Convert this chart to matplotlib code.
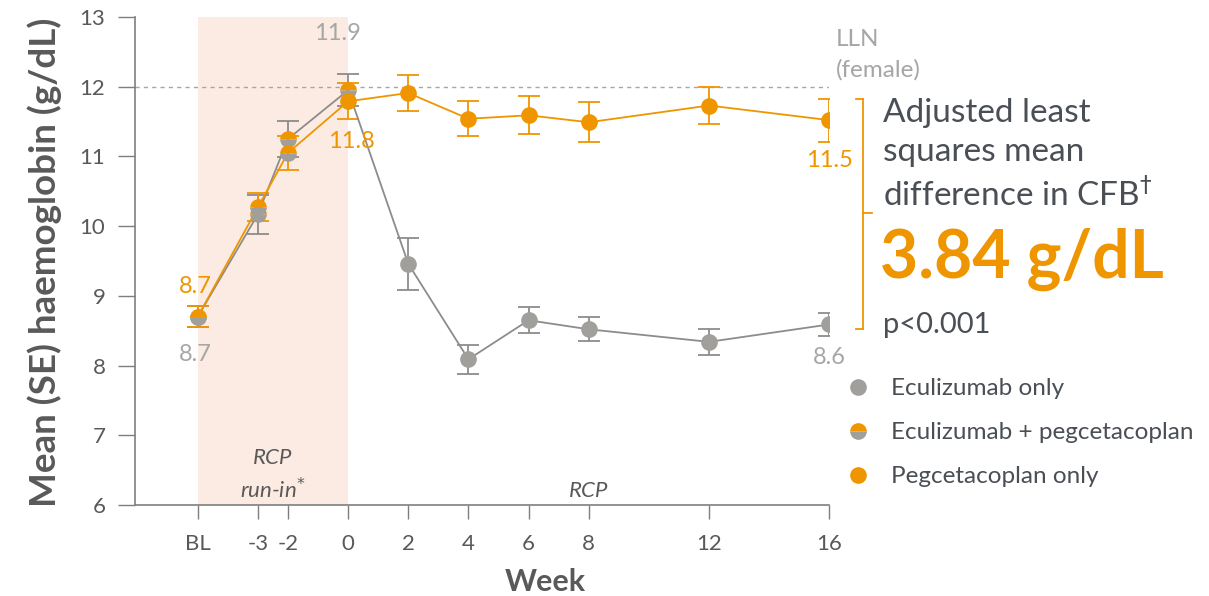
import matplotlib
matplotlib.use("Agg")
import matplotlib.pyplot as plt
from matplotlib.lines import Line2D
import numpy as np

# ---- data ----
week_labels = ['BL', '-3', '-2', '0', '2', '4', '6', '8', '12', '16']
weeks = [-5, -3, -2, 0, 2, 4, 6, 8, 12, 16]
ecu_mean = [8.70, 10.17, 11.25, 11.95, 9.46, 8.09, 8.65, 8.52, 8.34, 8.59]
ecu_se = [0.15, 0.28, 0.26, 0.23, 0.37, 0.21, 0.19, 0.17, 0.19, 0.16]
peg_mean = [8.70, 10.27, 11.05, 11.79, 11.91, 11.54, 11.59, 11.49, 11.73, 11.52]
peg_se = [0.15, 0.20, 0.24, 0.26, 0.26, 0.25, 0.27, 0.29, 0.27, 0.31]
lln = 12.0
runin_start, runin_end = -5, 0

ORANGE = '#EE9500'
GREY_M = '#A09F9B'
GREY_L = '#8C8C8C'
DARK = '#595959'
TEXT = '#4A4F55'
LIGHT = '#A6A6A6'

plt.rcParams['font.family'] = ['Lato', 'DejaVu Sans']

fig = plt.figure(figsize=(12.09, 5.96), dpi=100)
ax = fig.add_axes([0.1113, 0.1527, 0.686 - 0.1113, 0.9715 - 0.1527])

ax.set_xlim(-7.1, 16)
ax.set_ylim(6, 13)

# run-in shading
ax.axvspan(runin_start, runin_end, color='#FCEBE3', zorder=0, lw=0)
# LLN
ax.axhline(lln, color=LIGHT, lw=1, ls=(0, (3, 3)), zorder=1)

w = np.array(weeks)
em = np.array(ecu_mean); es = np.array(ecu_se)
pm = np.array(peg_mean); ps = np.array(peg_se)

ax.errorbar(w, em, yerr=es, fmt='none', ecolor=GREY_L, elinewidth=1.3, capsize=8, capthick=1.3, zorder=2)
ax.errorbar(w, pm, yerr=ps, fmt='none', ecolor=ORANGE, elinewidth=1.3, capsize=8, capthick=1.3, zorder=2)
ax.plot(w, em, color=GREY_L, lw=1.3, zorder=3)
ax.plot(w, pm, color=ORANGE, lw=1.3, zorder=3)

ms = 12
run_e = w <= 0
run_p = w < 0
# RCP markers
ax.plot(w[~run_e], em[~run_e], 'o', ms=ms, color=GREY_M, mew=0, zorder=4)
ax.plot(w[~run_p], pm[~run_p], 'o', ms=ms, color=ORANGE, mew=0, zorder=5)
# run-in (combination) markers
ax.plot(w[run_e], em[run_e], 'o', ms=ms, fillstyle='top', markerfacecolor=ORANGE,
        markerfacecoloralt=GREY_M, mew=0, zorder=4)
ax.plot(w[run_p], pm[run_p], 'o', ms=ms, fillstyle='top', markerfacecolor=ORANGE,
        markerfacecoloralt=GREY_M, mew=0, zorder=5)

# value labels
fs_val = 17
def lab(x, y, txt, color, dx, dy):
    ax.annotate(txt, (x, y), xytext=(dx, dy), textcoords='offset points',
                ha='center', va='center', color=color, fontsize=fs_val)
lab(weeks[3], ecu_mean[3], '11.9', LIGHT, -8, 41)
lab(weeks[3], peg_mean[3], '11.8', ORANGE, 2, -29)
lab(weeks[0], peg_mean[0], '8.7', ORANGE, -2, 22)
lab(weeks[0], ecu_mean[0], '8.7', LIGHT, -2, -27)
lab(weeks[-1], peg_mean[-1], '11.5', ORANGE, 0, -29)
lab(weeks[-1], ecu_mean[-1], '8.6', LIGHT, 0, -24)

# axes styling
for s in ['top', 'right']:
    ax.spines[s].set_visible(False)
for s in ['left', 'bottom']:
    ax.spines[s].set_color('#7F7F7F')
    ax.spines[s].set_linewidth(1.2)
ax.set_xticks(weeks)
ax.set_xticklabels(week_labels)
ax.set_yticks(range(6, 14))
ax.tick_params(axis='x', length=10, width=1, color='#7F7F7F', pad=11, labelsize=16, labelcolor=DARK)
ax.tick_params(axis='y', length=12, width=1, color='#7F7F7F', pad=9, labelsize=16, labelcolor=DARK)

# phase labels
ax.text(-2.5, 6.43, 'RCP\nrun-in$^{*}$', ha='center', va='center', style='italic',
        fontsize=16, color=DARK, linespacing=1.45)
ax.text(8, 6.2, 'RCP', ha='center', va='center', style='italic', fontsize=16, color=DARK)

# axis titles
fig.text(45 / 1209, 1 - 262 / 596, 'Mean (SE) haemoglobin (g/dL)', rotation=90,
         ha='center', va='center', fontsize=26.5, fontweight='bold', color=DARK)
fig.text(545 / 1209, 1 - 582 / 596, 'Week', ha='center', va='center',
         fontsize=22, fontweight='bold', color=DARK)

# LLN text
fig.text(836 / 1209, 1 - 40 / 596, 'LLN', ha='left', va='center', fontsize=17.5, color=LIGHT)
fig.text(836 / 1209, 1 - 70 / 596, '(female)', ha='left', va='center', fontsize=17.5, color=LIGHT)

# bracket
def fx(px): return px / 1209
def fy(py): return 1 - py / 596
for xs, ys in [([856, 863], [99, 99]), ([863, 863], [99, 329]), ([856, 863], [329, 329]),
               ([863, 872], [213, 213])]:
    fig.add_artist(Line2D([fx(v) for v in xs], [fy(v) for v in ys], color=ORANGE, lw=1.3))

fig.text(fx(883), fy(155), 'Adjusted least\nsquares mean\ndifference in CFB$^{\\dagger}$',
         ha='left', va='center', fontsize=24, color=TEXT, linespacing=1.35)
fig.text(fx(880), fy(259), '3.84 g/dL', ha='left', va='center', fontsize=47.5,
         fontweight='bold', color=ORANGE)
fig.text(fx(883), fy(325), 'p<0.001', ha='left', va='center', fontsize=21, color=TEXT)

# legend
handles = [
    Line2D([], [], ls='none', marker='o', ms=ms, color=GREY_M, mew=0),
    Line2D([], [], ls='none', marker='o', ms=ms, fillstyle='top', markerfacecolor=ORANGE,
           markerfacecoloralt=GREY_M, mew=0),
    Line2D([], [], ls='none', marker='o', ms=ms, color=ORANGE, mew=0),
]
labels = ['Eculizumab only', 'Eculizumab + pegcetacoplan', 'Pegcetacoplan only']
leg = fig.legend(handles, labels, loc='upper left', bbox_to_anchor=(fx(846), fy(378)),
                 frameon=False, fontsize=17.5, handletextpad=0.85, labelspacing=0.95,
                 handlelength=1.0, borderaxespad=0, borderpad=0)
for t in leg.get_texts():
    t.set_color(TEXT)

fig.savefig('out.png', dpi=100)
